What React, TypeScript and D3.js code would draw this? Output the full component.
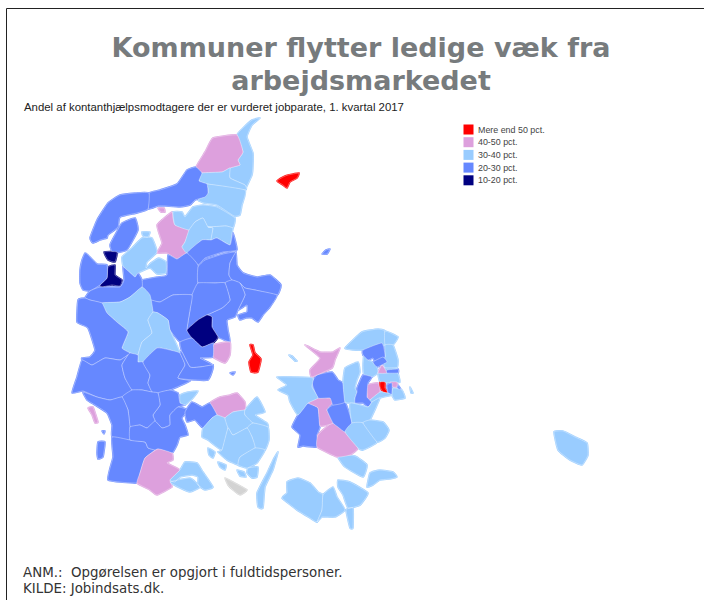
import React from 'react';
import * as d3 from 'd3';

// Andel jobparate pr. kommune, aflæst som interval fra kortet
const legendLabels = ['Mere end 50 pct.', '40-50 pct.', '30-40 pct.', '20-30 pct.', '10-20 pct.'];
const legendValues = [55, 45, 35, 25, 15];
const bandLimits = [20, 30, 40, 50];
const bandColors = ['#000080', '#6688ff', '#99ccff', '#dda0dd', '#ff0000'];
const noDataColor = '#d3d3d3';

const titleLines = ['Kommuner flytter ledige væk fra', 'arbejdsmarkedet'];
const subtitle = 'Andel af kontanthjælpsmodtagere der er vurderet jobparate, 1. kvartal 2017';
const notes = ['ANM.:  Opgørelsen er opgjort i fuldtidspersoner.', 'KILDE: Jobindsats.dk.'];

type Ring = [number, number][];

// Kommunegrænser i kortets eget gitter
const kommuner: [string, number | null, Ring[]][] = [
  ['Frederikshavn', 35, [[[260,118],[252,125],[247,137],[253,153],[253,165],[252,175],[245,190],[245,185],[230,178],[230,168],[240,165],[238,160],[243,152],[237,135],[243,128],[252,120]]]],
  ['Læsø', 55, [[[277,181],[283,177],[288,175],[299,173],[297,178],[290,182],[287,188],[283,185]]]],
  ['Hjørring', 45, [[[237,135],[243,152],[238,160],[240,165],[230,168],[222,172],[202,173],[196,167],[205,152],[213,138]]]],
  ['Brønderslev', 35, [[[202,173],[222,172],[230,168],[230,178],[245,185],[245,190],[207,184],[199,181]]]],
  ['Aalborg N', 35, [[[207,184],[245,190],[242,205],[240,215],[234,216],[217,205],[204,203],[198,200],[208,193],[208,188]]]],
  ['Jammerbugt', 25, [[[149,193],[160,190],[177,184],[187,170],[196,167],[202,173],[199,181],[207,184],[208,193],[205,197],[195,200],[190,205],[180,207],[165,206],[158,206],[148,209]]]],
  ['Thisted', 25, [[[149,193],[135,193],[120,195],[108,203],[97,220],[90,238],[93,243],[100,240],[107,238],[108,235],[118,227],[120,217],[137,213],[148,209]]]],
  ['Morsø', 25, [[[110,245],[115,235],[122,223],[135,218],[138,230],[127,250],[113,253]]]],
  ['Struer', 15, [[[104,252],[117,252],[115,262],[108,260]],[[108,267],[115,265],[115,275],[122,280],[120,286],[112,285],[102,287],[100,285],[107,278]]]],
  ['Skive', 35, [[[122,257],[132,248],[142,238],[152,238],[157,252],[147,262],[146,268],[151,263],[159,258],[166,262],[166,273],[157,274],[150,268],[138,273],[135,277],[127,270],[123,266]],[[142,232],[150,232],[148,237],[143,236]]]],
  ['Vesthimmerland', 45, [[[172,212],[173,218],[175,225],[189,230],[185,242],[182,247],[187,253],[177,259],[167,253],[157,253],[162,243],[157,225]],[[158,208],[164,208],[165,212],[161,212]]]],
  ['Aalborg S', 35, [[[173,212],[182,212],[185,217],[193,207],[203,205],[217,207],[235,218],[233,228],[226,226],[208,227],[203,218],[195,222],[189,230],[175,225]]]],
  ['Rebild', 35, [[[189,230],[195,222],[203,218],[208,227],[213,228],[211,240],[202,240],[187,253],[182,247],[185,242]]]],
  ['Mariagerfjord', 35, [[[208,227],[226,226],[233,228],[232,233],[230,245],[217,238],[211,240],[213,228]]]],
  ['Mariagerfjord S', 25, [[[187,253],[202,240],[211,240],[217,238],[230,245],[233,233],[237,250],[223,252],[205,258],[198,265]]]],
  ['Viborg', 25, [[[168,255],[177,259],[187,253],[198,265],[198,283],[192,295],[173,295],[160,302],[150,300],[142,287],[142,280],[157,277],[167,275]]]],
  ['Randers', 25, [[[198,267],[205,260],[223,254],[236,252],[230,263],[229,275],[232,280],[225,283],[215,283],[198,283]]]],
  ['Norddjurs', 25, [[[236,252],[237,265],[243,273],[257,277],[270,275],[281,285],[277,295],[255,290],[245,288],[240,283],[232,280],[229,275],[230,263]],[[322,254],[326,250],[330,249],[327,254]]]],
  ['Syddjurs', 25, [[[240,283],[245,288],[255,290],[277,295],[270,307],[263,315],[258,322],[252,318],[246,318],[240,320],[238,315],[247,312],[247,305],[238,310],[245,295]]]],
  ['Aarhus', 25, [[[225,283],[232,280],[240,283],[245,295],[238,310],[235,317],[227,320],[228,330],[230,342],[218,337],[212,327],[212,317],[207,315],[222,308],[230,300]]]],
  ['Favrskov', 25, [[[198,283],[215,283],[225,283],[230,300],[222,308],[207,315],[198,320],[187,330],[190,310],[192,295]]]],
  ['Silkeborg', 25, [[[150,300],[160,302],[173,295],[192,295],[190,310],[187,330],[192,338],[180,342],[170,330],[168,320],[158,313],[153,312]]]],
  ['Skanderborg', 15, [[[187,330],[198,320],[207,315],[212,317],[212,327],[218,337],[213,343],[202,347],[192,338]]]],
  ['Odder', 45, [[[213,345],[230,342],[230,355],[225,363],[213,357]]]],
  ['Samsø', 55, [[[250,345],[253,345],[255,353],[261,359],[258,372],[251,372],[249,362],[253,355]]]],
  ['Lemvig', 25, [[[85,253],[88,255],[97,264],[107,265],[107,278],[100,285],[90,291],[83,290],[80,283],[80,270],[82,260]]]],
  ['Holstebro', 25, [[[90,291],[100,287],[120,287],[124,280],[123,267],[127,270],[135,277],[138,273],[142,280],[142,287],[130,297],[120,302],[102,303],[90,300],[85,298]]]],
  ['Herning', 35, [[[102,303],[120,302],[130,297],[142,287],[150,295],[153,312],[148,320],[152,333],[142,342],[138,355],[130,353],[122,348],[128,332],[118,323],[107,313]]]],
  ['Ikast-Brande', 35, [[[153,312],[158,313],[168,320],[170,330],[180,353],[170,350],[157,348],[143,362],[138,362],[138,355],[142,342],[152,333],[148,320]]]],
  ['Ringkøbing-Skjern', 25, [[[78,300],[85,298],[90,300],[102,303],[107,313],[118,323],[128,332],[122,348],[130,353],[128,355],[120,360],[105,358],[92,365],[82,360],[82,358],[90,357],[95,350],[88,328],[77,322]]]],
  ['Varde', 25, [[[82,360],[92,365],[105,358],[120,360],[128,355],[122,365],[125,378],[132,390],[122,397],[110,400],[97,397],[83,391],[72,393],[77,377]]]],
  ['Billund', 25, [[[122,365],[128,355],[130,353],[138,355],[138,362],[143,362],[150,375],[148,383],[152,392],[142,390],[132,390],[125,378]]]],
  ['Vejle', 25, [[[143,362],[157,348],[170,350],[180,353],[185,365],[178,378],[190,381],[170,390],[158,393],[152,392],[148,383],[150,375]]]],
  ['Horsens', 25, [[[180,342],[192,338],[202,347],[213,343],[213,357],[200,358],[213,365],[200,367],[190,367],[182,352]],[[230,373],[235,372],[233,375]]]],
  ['Hedensted', 25, [[[180,353],[182,352],[190,367],[200,367],[213,365],[212,372],[208,380],[195,380],[178,378],[185,365]]]],
  ['Fredericia', 35, [[[180,395],[188,392],[198,391],[193,398],[185,405],[180,403]]]],
  ['Kolding', 25, [[[158,393],[170,390],[178,393],[180,403],[185,405],[178,407],[170,415],[170,425],[162,428],[155,421],[153,415],[160,405]]]],
  ['Vejen', 25, [[[122,397],[132,390],[142,390],[152,392],[158,393],[160,405],[153,415],[155,421],[147,428],[140,425],[130,427],[128,410]]]],
  ['Esbjerg', 25, [[[83,392],[97,397],[110,400],[122,397],[128,410],[130,427],[130,440],[112,437],[112,425],[107,413],[95,405],[87,400]]]],
  ['Fanø', 45, [[[88,408],[93,407],[98,422],[95,423],[92,415]]]],
  ['Rømø', 25, [[[98,442],[105,442],[103,457],[98,459],[97,453]],[[102,431],[105,431],[104,434]]]],
  ['Tønder', 25, [[[112,437],[130,440],[145,442],[148,448],[155,450],[145,458],[140,473],[137,483],[108,480],[113,457]]]],
  ['Haderslev', 25, [[[130,427],[140,425],[147,428],[155,421],[162,428],[170,425],[170,415],[178,407],[188,410],[182,418],[185,425],[188,435],[180,437],[177,445],[172,453],[158,449],[155,450],[148,448],[145,442],[130,440]]]],
  ['Aabenraa', 45, [[[158,449],[172,453],[173,460],[167,463],[180,470],[170,480],[172,487],[157,495],[150,490],[137,483],[140,473],[145,458]]]],
  ['Sønderborg', 35, [[[185,462],[197,463],[203,472],[213,487],[205,490],[198,485],[198,477],[192,475],[180,477],[175,482],[170,480],[180,470]],[[170,482],[190,478],[200,487],[190,492],[180,488]]]],
  ['Nordfyn', 45, [[[210,403],[220,397],[230,395],[237,393],[245,402],[245,410],[233,412],[225,418],[217,415]]]],
  ['Middelfart', 25, [[[192,402],[202,407],[210,403],[217,415],[212,418],[203,428],[195,420],[187,422],[185,412]]]],
  ['Assens', 35, [[[203,428],[212,418],[217,415],[225,418],[228,428],[222,450],[208,440],[202,437]]]],
  ['Odense', 35, [[[225,418],[233,412],[245,410],[245,415],[253,423],[247,428],[233,435],[228,428]]]],
  ['Kerteminde', 35, [[[245,410],[257,397],[265,412],[255,415],[267,423],[268,427],[253,423],[245,415]]]],
  ['Nyborg', 35, [[[253,423],[268,427],[269,440],[265,450],[255,448],[252,437],[247,428]]]],
  ['Faaborg-Midtfyn', 35, [[[233,435],[247,428],[252,437],[255,448],[240,457],[238,465],[227,460],[218,452],[222,450],[228,428]],[[208,448],[215,452],[213,458],[209,455]],[[218,462],[226,465],[225,470],[220,467]],[[237,470],[244,472],[246,477],[240,476]]]],
  ['Svendborg', 35, [[[265,450],[257,463],[247,468],[238,465],[240,457],[255,448]],[[248,468],[258,467],[257,477],[252,478],[247,473]]]],
  ['Ærø', null, [[[225,478],[233,482],[247,490],[240,495],[233,490],[228,485]]]],
  ['Langeland', 35, [[[278,452],[273,470],[265,487],[263,508],[258,507],[257,493],[267,473],[273,460]]]],
  ['Lolland', 35, [[[287,482],[298,478],[310,483],[318,492],[323,495],[322,510],[317,522],[310,518],[297,510],[282,498],[287,493]]]],
  ['Guldborgsund', 35, [[[323,495],[333,487],[337,497],[345,510],[335,517],[322,517],[317,522],[322,510]],[[338,480],[350,482],[368,493],[360,505],[348,508],[343,495],[338,487]],[[346,510],[353,508],[353,528],[350,528]]]],
  ['Vordingborg', 35, [[[337,455],[355,456],[367,465],[363,477],[345,467]],[[370,473],[380,470],[393,472],[397,477],[390,479],[380,480],[373,485],[367,487]]]],
  ['Slagelse', 25, [[[298,415],[308,403],[318,408],[320,427],[317,435],[318,447],[303,446],[298,447],[300,435],[292,427]]]],
  ['Næstved', 45, [[[318,435],[332,423],[345,432],[358,448],[350,455],[337,457],[317,447]]]],
  ['Sorø', 45, [[[308,403],[318,398],[330,398],[333,402],[327,410],[333,423],[320,426],[318,408]]]],
  ['Ringsted', 25, [[[333,405],[345,402],[352,423],[345,432],[338,427],[333,423],[327,410]]]],
  ['Holbæk', 25, [[[312,383],[317,375],[332,372],[338,380],[343,383],[345,402],[333,405],[330,398],[318,398]]]],
  ['Kalundborg', 35, [[[277,377],[297,377],[313,378],[312,387],[318,398],[308,403],[298,415],[290,402],[288,395],[278,390],[287,385]],[[289,355],[292,356],[297,361],[295,361]]]],
  ['Odsherred', 45, [[[305,345],[320,352],[333,352],[340,348],[335,360],[332,368],[312,377],[310,370],[320,358]]]],
  ['Lejre', 35, [[[343,383],[345,368],[358,362],[360,372],[357,380],[355,388],[357,392],[355,398],[355,403],[345,402]]]],
  ['Halsnæs', 35, [[[345,348],[362,332],[378,329],[385,331],[385,345],[363,350],[353,350]]]],
  ['Gribskov', 35, [[[385,331],[398,337],[393,345],[385,345]]]],
  ['Helsingør', 35, [[[385,345],[393,345],[398,360],[397,368],[385,368],[383,360],[385,357]]]],
  ['Frederikssund', 35, [[[364,351],[363,355],[368,360],[373,362],[377,367],[378,373],[372,377],[364,375],[363,365]]]],
  ['Hillerød', 25, [[[363,350],[382,343],[385,357],[375,362],[373,358],[368,360],[363,355]]]],
  ['Furesø', 25, [[[373,362],[383,357],[387,362],[377,367]]]],
  ['Rudersdal', 35, [[[385,368],[397,368],[398,373],[400,382],[392,383],[380,382],[378,373],[382,365]]]],
  ['Gladsaxe', 45, [[[378,373],[382,365],[387,373]]]],
  ['Gentofte', 25, [[[387,370],[398,369],[398,373],[387,373]]]],
  ['Høje-Taastrup', 45, [[[367,385],[378,383],[380,392],[370,400],[367,397]]]],
  ['Roskilde', 25, [[[363,375],[372,377],[368,383],[367,397],[370,400],[372,402],[368,407],[363,403],[355,403],[355,398],[357,392],[357,388]]]],
  ['Albertslund', 55, [[[380,382],[385,382],[385,388],[388,393],[383,392],[380,387]]]],
  ['Frederiksberg', 45, [[[390,382],[397,382],[397,387],[392,387]]]],
  ['København', 25, [[[387,385],[392,383],[392,395],[388,393]],[[398,385],[403,393],[398,393]]]],
  ['Tårnby', 35, [[[393,388],[402,390],[405,398],[395,400],[392,395]],[[410,387],[413,393],[411,393]]]],
  ['Solrød', 35, [[[380,392],[388,393],[392,395],[380,398],[372,402],[370,400]]]],
  ['Køge', 35, [[[350,403],[368,407],[372,402],[380,398],[370,420],[363,423],[352,423]]]],
  ['Faxe', 35, [[[345,432],[352,423],[363,423],[377,442],[363,450],[358,448]]]],
  ['Stevns', 35, [[[370,420],[383,422],[389,430],[385,438],[377,442],[363,423]]]],
  ['Bornholm', 35, [[[554,432],[563,431],[575,437],[587,443],[588,455],[582,465],[570,460],[558,450]]]],
];

const color = d3.scaleThreshold<number, string>().domain(bandLimits).range(bandColors);
// Let afrundede kystlinjer i stedet for kantede polygoner
const outline = d3.line().curve(d3.curveCardinalClosed.tension(0.6));

const shapes = kommuner.map(([name, share, rings]) => ({
  name,
  fill: share === null ? noDataColor : color(share),
  d: rings.map(r => outline(r)).join(''),
}));

export default function App() {
  return (
    <svg width={704} height={600} style={{ position: 'absolute', left: 0, top: 0 }}>
      <path d="M6.5 600V8.5H704" fill="none" stroke="#222" />
      <g fontFamily="'DejaVu Sans'" fontWeight="bold" fontSize={27} fill="#777b7d" textAnchor="middle">
        {titleLines.map((t, i) => (
          <text key={t} x={361} y={57 + i * 33}>{t}</text>
        ))}
      </g>
      <text x={24} y={111} fontFamily="'Liberation Sans'" fontSize={11.4} fill="#222">{subtitle}</text>
      {/* underlay closes the hairline gaps between neighbours */}
      <g strokeLinejoin="round" strokeWidth={1.6}>
        {shapes.map(s => <path key={s.name} d={s.d} fill={s.fill} stroke={s.fill} />)}
      </g>
      <g stroke="#fff" strokeOpacity={0.7} strokeWidth={0.5} strokeLinejoin="round">
        {shapes.map(s => <path key={s.name} d={s.d} fill={s.fill} />)}
      </g>
      <g fontFamily="'Liberation Sans'" fontSize={8.9} fill="#444">
        {legendLabels.map((l, i) => (
          <g key={l} transform={`translate(463.5,${124.5 + i * 12.7})`}>
            <rect width={10} height={10} fill={color(legendValues[i])} />
            <text x={14.5} y={8}>{l}</text>
          </g>
        ))}
      </g>
      <g fontFamily="'DejaVu Sans'" fontSize={13.4} fill="#333">
        {notes.map((n, i) => (
          <text key={n} x={23} y={577 + i * 16} style={{ whiteSpace: 'pre' }}>{n}</text>
        ))}
      </g>
    </svg>
  );
}
